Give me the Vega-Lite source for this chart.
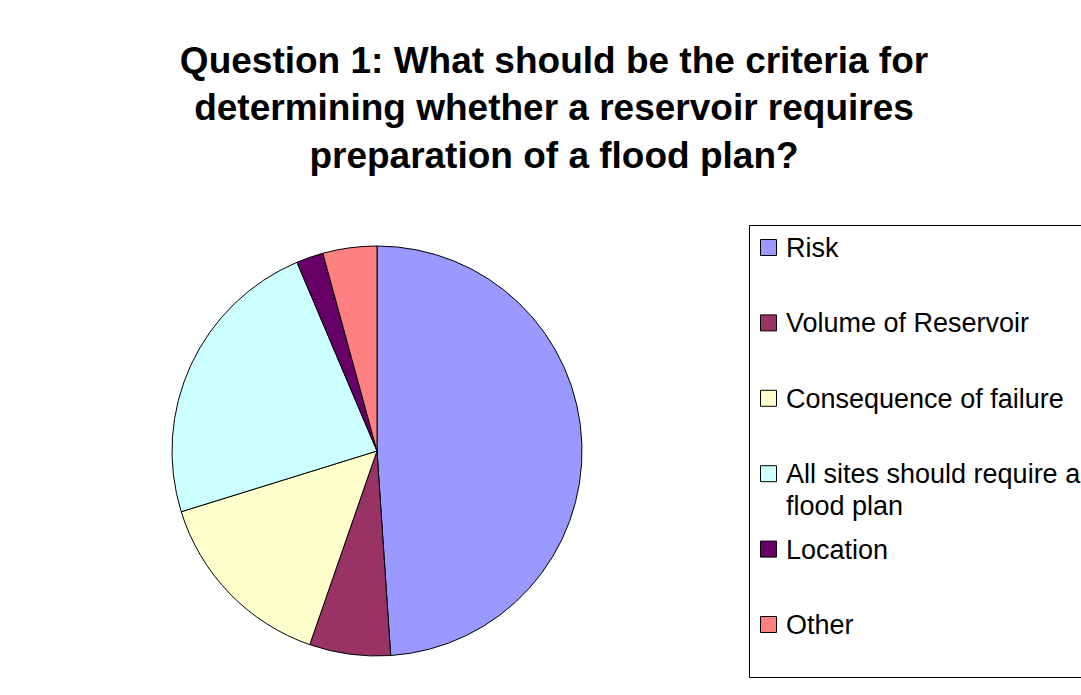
{
  "$schema": "https://vega.github.io/schema/vega-lite/v6.json",
  "autosize": {"type": "none"},
  "width": 728,
  "height": 452,
  "padding": {"left": 13, "top": 225, "right": 340, "bottom": 18},
  "background": "white",
  "title": {
    "text": ["Question 1: What should be the criteria for", "determining whether a reservoir requires", "preparation of a flood plan?"],
    "font": "Liberation Sans",
    "fontSize": 37,
    "fontWeight": "bold",
    "color": "black",
    "lineHeight": 47.5,
    "anchor": "middle",
    "dx": 177,
    "offset": 49
  },
  "data": {
    "values": [
      {"answer": "Risk", "count": 23, "idx": 1},
      {"answer": "Volume of Reservoir", "count": 3, "idx": 2},
      {"answer": "Consequence of failure", "count": 7, "idx": 3},
      {"answer": "All sites should require a flood plan", "count": 11, "idx": 4},
      {"answer": "Location", "count": 1, "idx": 5},
      {"answer": "Other", "count": 2, "idx": 6}
    ]
  },
  "mark": {"type": "arc", "radius": 205, "stroke": "black", "strokeWidth": 1},
  "encoding": {
    "theta": {"field": "count", "type": "quantitative", "stack": true},
    "order": {"field": "idx", "type": "quantitative"},
    "color": {
      "field": "answer",
      "type": "nominal",
      "sort": ["Risk", "Volume of Reservoir", "Consequence of failure", "All sites should require a flood plan", "Location", "Other"],
      "scale": {
        "domain": ["Risk", "Volume of Reservoir", "Consequence of failure", "All sites should require a flood plan", "Location", "Other"],
        "range": ["#9999FF", "#993366", "#FFFFCC", "#CCFFFF", "#660066", "#FF8080"]
      },
      "legend": {
        "title": " ",
        "titleOrient": "bottom",
        "titleFontSize": 10,
        "titlePadding": 19,
        "orient": "none",
        "legendX": 736,
        "legendY": 0,
        "strokeColor": "black",
        "fillColor": "white",
        "padding": 9,
        "symbolOffset": -3,
        "symbolType": "square",
        "symbolSize": 256,
        "symbolStrokeColor": "black",
        "symbolStrokeWidth": 1,
        "symbolOpacity": 1,
        "labelFont": "Liberation Sans",
        "labelFontSize": 27,
        "labelColor": "black",
        "labelOffset": 4,
        "labelLimit": 500,
        "labelBaseline": "alphabetic",
        "labelExpr": "datum.label == 'All sites should require a flood plan' ? ['All sites should require a', 'flood plan'] : datum.label",
        "rowPadding": 15.4,
        "gridAlign": "all",
        "encode": {"labels": {"update": {"dy": {"value": 9.5}, "lineHeight": {"value": 32}}}}
      }
    }
  },
  "config": {"view": {"stroke": null}}
}
